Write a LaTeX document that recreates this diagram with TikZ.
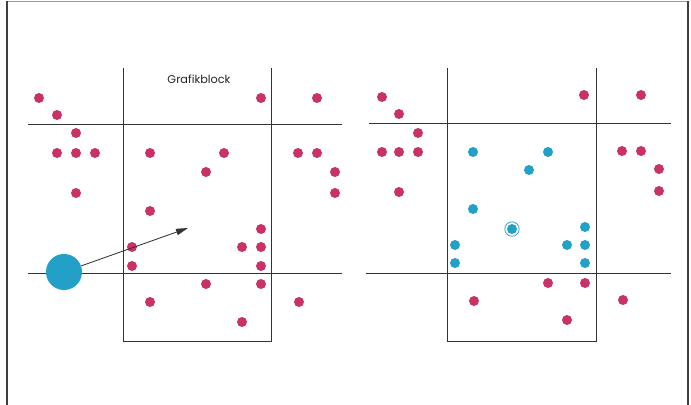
\documentclass[tikz,border=0pt]{standalone}
\usepackage{fontspec}
\newfontfamily\blockfont{Poppins}
\usetikzlibrary{arrows.meta}
\definecolor{dotred}{RGB}{200,50,105}
\definecolor{dotblue}{RGB}{35,160,200}

\begin{document}
\begin{tikzpicture}[x=0.025cm, y=-0.025cm, >={Triangle[length=3mm, width=1.6mm]},
  mdot/.style={circle, fill=dotred, inner sep=0pt, minimum size=0.25cm},
  cdot/.style={circle, fill=dotblue, inner sep=0pt, minimum size=0.25cm},
  rule/.style={line width=0.7pt, draw=black!80}]
  \useasboundingbox (0,0) rectangle (691,405);
  % frame
  \draw[line width=0.5pt, black!40] (7,1) -- (688,1);
  \draw[line width=1.2pt, black!75] (7,405) -- (7,1);
  \draw[line width=1.2pt, black!75] (688,1) -- (688,405);

  % left panel
  \draw[rule] (123,68) -- (123,341) -- (271,341) -- (271,68);
  \draw[rule] (28,124) -- (342,124);
  \draw[rule] (28,273) -- (342,273);
  \node[font=\blockfont\fontsize{8}{10}\selectfont, text=black!85] (title) at (199,79) {Grafikblock};
  \foreach \p [count=\i] in {(39,98),(57,115),(76,133),(57,153),(76,153),(95,153),(76,193),
      (150,153),(224,153),(206,172),(150,211),(261,98),(317,98),(298,153),(317,153),
      (335,172),(335,193),(261,229),(242,247),(261,247),(261,266),(132,247),(132,266),
      (206,284),(261,284),(150,302),(299,302),(242,322)}
    \node[mdot] (l\i) at \p {};
  \node[circle, fill=dotblue, inner sep=0pt, minimum size=0.9cm] (cursor) at (64,272) {};
  \coordinate (aim) at (188,228);
  \draw[->, line width=0.6pt, black!80] (cursor) -- (aim);

  % right panel
  \draw[rule] (447,68) -- (447,341) -- (596,341) -- (596,68);
  \draw[rule] (369,123) -- (671,123);
  \draw[rule] (366,273) -- (671,273);
  \foreach \p [count=\i] in {(382,97),(399,114),(418,133),(382,152),(399,152),(418,152),
      (399,192),(584,95),(641,95),(622,151),(641,151),(659,169),(659,191),(548,283),
      (585,283),(474,301),(623,300),(567,320)}
    \node[mdot] (r\i) at \p {};
  \foreach \p [count=\i] in {(473,152),(548,152),(529,170),(473,209),(455,245),(455,263),
      (567,245),(585,245),(585,227),(585,263)}
    \node[cdot] (c\i) at \p {};
  \node[cdot] (hit) at (512,229) {};
  \draw[dotblue, line width=0.5pt] (hit) circle[radius=0.18cm];
\end{tikzpicture}
\end{document}
